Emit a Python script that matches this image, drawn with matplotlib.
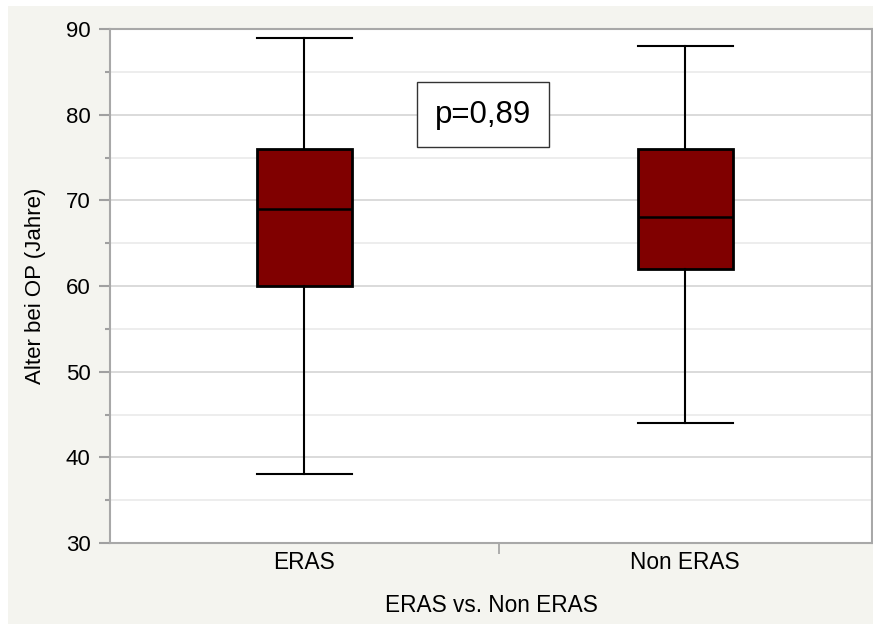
import matplotlib
matplotlib.use("Agg")
import matplotlib.pyplot as plt
from matplotlib.patches import Rectangle
from matplotlib.ticker import MultipleLocator, FixedLocator

plt.rcParams['font.family'] = ['Liberation Sans', 'DejaVu Sans']

# Daten (Alter bei OP)
gruppen = ['ERAS', 'Non ERAS']
minimum = [38, 44]
q1 = [60, 62]
median = [69, 68]
q3 = [76, 76]
maximum = [89, 88]
p_text = 'p=0,89'

fig = plt.figure(figsize=(8.73, 6.24), dpi=100, facecolor='white')
# grauer Hintergrund mit weissem Rand oben/links
fig.patches.append(Rectangle((8/873, 0), 1, 1 - 6/624, transform=fig.transFigure,
                             facecolor='#f4f4ef', edgecolor='none', zorder=-5))
ax = fig.add_axes([110/873, 1 - 543/624, 762/873, (543 - 29)/624])
ax.set_zorder(2)
ax.set_facecolor('white')

stats = []
for i, g in enumerate(gruppen):
    stats.append({'label': g, 'whislo': minimum[i], 'q1': q1[i], 'med': median[i],
                  'q3': q3[i], 'whishi': maximum[i], 'fliers': []})

ax.bxp(stats, positions=[0, 1], widths=0.25, patch_artist=True, showfliers=False,
       boxprops=dict(facecolor='#800000', edgecolor='black', linewidth=2),
       medianprops=dict(color='black', linewidth=1.8),
       whiskerprops=dict(color='black', linewidth=1.5),
       capprops=dict(color='black', linewidth=1.5), capwidths=0.25, zorder=3)

ax.set_xlim(-0.51, 1.49)
ax.set_ylim(30, 90)

ax.yaxis.set_major_locator(MultipleLocator(10))
ax.yaxis.set_minor_locator(MultipleLocator(5))
ax.grid(which='major', axis='y', color='#d8d8d8', linewidth=1.3, zorder=0)
ax.grid(which='minor', axis='y', color='#ececec', linewidth=1.3, zorder=0)
ax.grid(which='both', axis='x', visible=False)
ax.tick_params(axis='y', which='major', length=8, width=1.5, color='#a0a0a0',
               labelsize=16, pad=6)
ax.tick_params(axis='y', which='minor', length=3.6, width=1.5, color='#a0a0a0')

# Kategorien als Minor-Ticks, Trennstrich als Major-Tick
ax.xaxis.set_major_locator(FixedLocator([0.51]))
ax.xaxis.set_major_formatter(plt.NullFormatter())
ax.xaxis.set_minor_locator(FixedLocator([0, 1]))
ax.set_xticklabels(gruppen, minor=True)
ax.tick_params(axis='x', which='major', length=8, width=1.2, color='#a0a0a0')
ax.tick_params(axis='x', which='minor', length=0, labelsize=16.3, pad=6)

for s in ax.spines.values():
    s.set_color('#a8a8a8')
    s.set_linewidth(1.5)

ax.set_ylabel('Alter bei OP (Jahre)', fontsize=16, labelpad=14)
ax.set_xlabel('ERAS vs. Non ERAS', fontsize=16.3, labelpad=14)

ax.text(0.47, 80, p_text, fontsize=22.5, ha='center', va='center', zorder=5,
        bbox=dict(boxstyle='square,pad=0.57', facecolor='white',
                  edgecolor='#333333', linewidth=1))

fig.savefig('out.png', dpi=100, facecolor=fig.get_facecolor())
